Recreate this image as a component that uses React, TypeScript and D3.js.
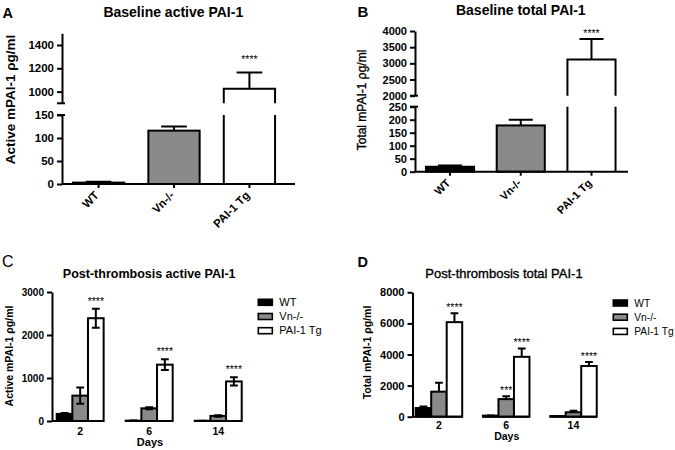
import React, { useEffect, useRef } from "react";
import * as d3 from "d3";

// baseline panels (A, B)
const baseGroups = ["WT", "Vn-/-", "PAI-1 Tg"];
const baseActive = [3, 116, 1025];
const baseActiveErr = [2, 9, 140];
const baseTotal = [19, 178, 3120];
const baseTotalErr = [5, 22, 630];
const baseStars = ["", "", "****"];

// post-thrombosis panels (C, D)
const days = ["2", "6", "14"];
const postActiveWT = [165, 8, 5];
const postActiveWTErr = [20, 3, 2];
const postActiveVn = [590, 295, 118];
const postActiveVnErr = [190, 22, 18];
const postActiveTg = [2390, 1310, 920];
const postActiveTgErr = [220, 125, 95];
const postActiveStars = [["", "", ""], ["", "", ""], ["****", "****", "****"]];

const postTotalWT = [560, 70, 40];
const postTotalWTErr = [90, 10, 8];
const postTotalVn = [1610, 1130, 285];
const postTotalVnErr = [580, 180, 100];
const postTotalTg = [6080, 3850, 3260];
const postTotalTgErr = [580, 540, 250];
const postTotalStars = [["", "", ""], ["", "***", ""], ["****", "****", "****"]];

const fills = ["#000000", "#8a8a8a", "#ffffff"];
const FONT = "'Liberation Sans', Arial, sans-serif";

function styleAxis(g: any, size: number) {
  g.attr("font-family", FONT).attr("font-size", size).attr("font-weight", "bold");
  g.select(".domain").attr("stroke", "#000").attr("stroke-width", 2);
  g.selectAll(".tick line").attr("stroke", "#000").attr("stroke-width", 2);
  g.selectAll(".tick text").attr("fill", "#000");
}

function starText(g: any, x: number, y: number, t: string) {
  g.append("text")
    .attr("x", x).attr("y", y)
    .attr("text-anchor", "middle")
    .attr("fill", "#000")
    .attr("font-family", FONT).attr("font-size", 10.5)
    .text(t);
}

function brokenPanel(svg: any, cfg: any) {
  const g = svg.append("g");
  const x = d3
    .scaleBand()
    .domain(baseGroups)
    .range(cfg.xRange)
    .paddingInner(0.32)
    .paddingOuter(cfg.po);
  const yLo = d3.scaleLinear().domain(cfg.loDomain).range(cfg.loRange);
  const yHi = d3.scaleLinear().domain(cfg.hiDomain).range(cfg.hiRange);
  const loMax = cfg.loDomain[1];
  const hiMin = cfg.hiDomain[0];
  const y = (v: number) => (v <= loMax ? yLo(v) : yHi(v));
  const w = x.bandwidth();

  baseGroups.forEach((k, i) => {
    const v = cfg.values[i];
    const x0 = x(k) as number;
    if (v <= loMax) {
      g.append("rect")
        .attr("x", x0).attr("y", yLo(v))
        .attr("width", w).attr("height", yLo(0) - yLo(v))
        .attr("fill", fills[i]).attr("stroke", "#000").attr("stroke-width", 2);
    } else {
      // bar crosses the axis break: lower stump + upper part
      g.append("rect")
        .attr("x", x0).attr("y", yLo(loMax))
        .attr("width", w).attr("height", yLo(0) - yLo(loMax))
        .attr("fill", fills[i]);
      g.append("path")
        .attr("d", `M${x0},${yLo(0)}V${yLo(loMax)}M${x0 + w},${yLo(loMax)}V${yLo(0)}`)
        .attr("fill", "none").attr("stroke", "#000").attr("stroke-width", 2);
      g.append("rect")
        .attr("x", x0).attr("y", yHi(v))
        .attr("width", w).attr("height", yHi(hiMin) - yHi(v))
        .attr("fill", fills[i]);
      g.append("path")
        .attr("d", `M${x0},${yHi(hiMin)}V${yHi(v)}H${x0 + w}V${yHi(hiMin)}`)
        .attr("fill", "none").attr("stroke", "#000").attr("stroke-width", 2);
    }
    const cx = x0 + w / 2;
    const top = y(v + cfg.errs[i]);
    g.append("path")
      .attr("d", `M${cx},${y(v)}V${top}M${cx - w / 4},${top}H${cx + w / 4}`)
      .attr("fill", "none").attr("stroke", "#000").attr("stroke-width", 2);
    if (cfg.stars[i]) starText(g, cx, top - cfg.starOffset + 6, cfg.stars[i]);
  });

  // y axis, two segments
  const lo = g.append("g").attr("transform", `translate(${cfg.axisX},0)`)
    .call(d3.axisLeft(yLo).tickValues(cfg.loTicks).tickSize(5).tickSizeOuter(0).tickPadding(3).tickFormat(d3.format("d")));
  styleAxis(lo, cfg.tickFont);
  const hi = g.append("g").attr("transform", `translate(${cfg.axisX},0)`)
    .call(d3.axisLeft(yHi).tickValues(cfg.hiTicks).tickSize(5).tickSizeOuter(0).tickPadding(3).tickFormat(d3.format("d")));
  styleAxis(hi, cfg.tickFont);
  // break marks
  [yHi(hiMin), yLo(loMax)].forEach((yy) => {
    g.append("line")
      .attr("x1", cfg.axisX - 5).attr("x2", cfg.axisX + 3)
      .attr("y1", yy).attr("y2", yy)
      .attr("stroke", "#000").attr("stroke-width", 2);
  });

  // x axis
  const y0 = yLo(0);
  g.append("line")
    .attr("x1", cfg.axisX).attr("x2", cfg.axisEnd)
    .attr("y1", y0).attr("y2", y0)
    .attr("stroke", "#000").attr("stroke-width", 2);
  baseGroups.forEach((k) => {
    const cx = (x(k) as number) + w / 2;
    g.append("line")
      .attr("x1", cx).attr("x2", cx).attr("y1", y0).attr("y2", y0 + 4)
      .attr("stroke", "#000").attr("stroke-width", 2);
    g.append("text")
      .attr("transform", `translate(${cx + 1},${y0 + 12}) rotate(-45)`)
      .attr("text-anchor", "end")
      .attr("font-family", FONT).attr("font-size", cfg.tickFont).attr("font-weight", "bold")
      .text(k);
  });
}

function groupedPanel(svg: any, cfg: any) {
  const g = svg.append("g");
  const xg = d3.scaleBand().domain(days).range(cfg.xRange).paddingInner(cfg.pi).paddingOuter(cfg.po);
  const xs = d3.scaleBand().domain(baseGroups).range([0, xg.bandwidth()]);
  const y = d3.scaleLinear().domain(cfg.yDomain).range(cfg.yRange);
  const bw = xs.bandwidth();

  baseGroups.forEach((s, si) => {
    days.forEach((d, di) => {
      const v = cfg.values[si][di];
      const e = cfg.errs[si][di];
      const x0 = (xg(d) as number) + (xs(s) as number);
      const cx = x0 + bw / 2;
      g.append("rect")
        .attr("x", x0).attr("y", y(v))
        .attr("width", bw).attr("height", y(0) - y(v))
        .attr("fill", fills[si]).attr("stroke", "#000").attr("stroke-width", 2);
      const top = y(v + e);
      const bot = cfg.both ? y(Math.max(0, v - e)) : y(v);
      let dd = `M${cx},${bot}V${top}M${cx - bw / 4},${top}H${cx + bw / 4}`;
      if (cfg.both) dd += `M${cx - bw / 4},${bot}H${cx + bw / 4}`;
      g.append("path").attr("d", dd).attr("fill", "none").attr("stroke", "#000").attr("stroke-width", 2);
      const st = cfg.stars[si][di];
      if (st) starText(g, cx, top - cfg.starOffset + 6, st);
    });
  });

  const ya = g.append("g").attr("transform", `translate(${cfg.axisX},0)`)
    .call(d3.axisLeft(y).tickValues(cfg.yTicks).tickSize(5).tickSizeOuter(0).tickPadding(3).tickFormat(d3.format("d")));
  styleAxis(ya, cfg.tickFont);

  // x axis drawn in one segment per group
  const y0 = y(0);
  days.forEach((d, di) => {
    const gx = xg(d) as number;
    g.append("line")
      .attr("x1", di === 0 ? cfg.axisX : gx).attr("x2", gx + xg.bandwidth())
      .attr("y1", y0).attr("y2", y0)
      .attr("stroke", "#000").attr("stroke-width", 2);
    g.append("text")
      .attr("x", gx + xg.bandwidth() / 2).attr("y", y0 + cfg.labelDy)
      .attr("text-anchor", "middle")
      .attr("font-family", FONT).attr("font-size", 10.5).attr("font-weight", "bold")
      .text(d);
  });
  g.append("text")
    .attr("x", cfg.daysPos[0]).attr("y", cfg.daysPos[1])
    .attr("text-anchor", "middle")
    .attr("font-family", FONT).attr("font-size", cfg.daysFont).attr("font-weight", "bold")
    .text("Days");

  // legend
  baseGroups.forEach((s, si) => {
    const ry = cfg.legend[1] + si * 14.2;
    g.append("rect")
      .attr("x", cfg.legend[0]).attr("y", ry).attr("width", 14).attr("height", 6)
      .attr("fill", fills[si]).attr("stroke", "#000").attr("stroke-width", 1.6);
    g.append("text")
      .attr("x", cfg.legend[0] + 21).attr("y", ry + 6.7)
      .attr("font-family", FONT).attr("font-size", cfg.legendFont)
      .text(s);
  });
}

function label(svg: any, t: string, x: number, y: number, size: number, weight: string, opts: any = {}) {
  const el = svg.append("text")
    .attr("x", x).attr("y", y)
    .attr("font-family", FONT).attr("font-size", size).attr("font-weight", weight)
    .attr("text-anchor", opts.anchor || "middle")
    .text(t);
  if (opts.rotate) el.attr("transform", `rotate(-90,${x},${y})`);
  if (opts.thick) el.attr("stroke", "#000").attr("stroke-width", opts.thick);
  return el;
}

const App = () => {
  const ref = useRef<SVGSVGElement>(null);
  useEffect(() => {
    const svg = d3.select(ref.current);
    svg.selectAll("*").remove();
    svg.append("rect").attr("width", 675).attr("height", 450).attr("fill", "#fff");

    // A
    label(svg, "A", 2.5, 18.3, 14.5, "bold", { anchor: "start" });
    label(svg, "Baseline active PAI-1", 173.3, 16.7, 14, "bold");
    label(svg, "Active mPAI-1 \u03c1g/ml", 15, 99.5, 13.5, "bold", { rotate: true });
    brokenPanel(svg, {
      values: baseActive, errs: baseActiveErr, stars: baseStars,
      axisX: 62, axisEnd: 295, xRange: [62, 286], po: 0.145,
      loDomain: [0, 150], loRange: [184, 115],
      hiDomain: [900, 1500], hiRange: [103.3, 33.3],
      loTicks: [0, 50, 100, 150], hiTicks: [1000, 1200, 1400],
      tickFont: 11.5, starOffset: 15,
    });

    // B
    label(svg, "B", 357.5, 17, 15, "bold", { anchor: "start" });
    label(svg, "Baseline total PAI-1", 520.8, 15, 14, "bold");
    label(svg, "Total mPAI-1 \u03c1g/ml", 366, 100, 12, "normal", { rotate: true, thick: 0.35 });
    brokenPanel(svg, {
      values: baseTotal, errs: baseTotalErr, stars: baseStars,
      axisX: 415, axisEnd: 628, xRange: [415, 626.5], po: 0.155,
      loDomain: [0, 250], loRange: [171.7, 106.7],
      hiDomain: [2000, 4000], hiRange: [95.7, 31],
      loTicks: [0, 50, 100, 150, 200, 250], hiTicks: [2000, 2500, 3000, 3500, 4000],
      tickFont: 11, starOffset: 8,
    });

    // C
    label(svg, "C", 2, 266.7, 16, "normal", { anchor: "start" });
    label(svg, "Post-thrombosis active PAI-1", 149.2, 278, 12.5, "bold");
    label(svg, "Active mPAI-1 \u03c1g/ml", 13, 356, 10.5, "bold", { rotate: true });
    groupedPanel(svg, {
      values: [postActiveWT, postActiveVn, postActiveTg],
      errs: [postActiveWTErr, postActiveVnErr, postActiveTgErr],
      stars: postActiveStars, both: true,
      axisX: 52, xRange: [52, 246.4], pi: 0.32, po: 0.068,
      yDomain: [0, 3000], yRange: [421, 292], yTicks: [0, 1000, 2000, 3000],
      tickFont: 10, starOffset: 10, labelDy: 13.5, daysPos: [150, 445.5], daysFont: 11,
      legend: [258.3, 299.3], legendFont: 11,
    });

    // D
    label(svg, "D", 357.5, 266.7, 14.5, "bold", { anchor: "start" });
    label(svg, "Post-thrombosis total PAI-1", 504, 278, 13, "normal", { thick: 0.35 });
    label(svg, "Total mPAI-1 \u03c1g/ml", 371, 352.5, 10.5, "bold", { rotate: true });
    groupedPanel(svg, {
      values: [postTotalWT, postTotalVn, postTotalTg],
      errs: [postTotalWTErr, postTotalVnErr, postTotalTgErr],
      stars: postTotalStars, both: false,
      axisX: 412.5, xRange: [412.5, 599.9], pi: 0.308, po: 0.047,
      yDomain: [0, 8000], yRange: [416.7, 292.3], yTicks: [0, 2000, 4000, 6000, 8000],
      tickFont: 11, starOffset: 8, labelDy: 12, daysPos: [506.7, 439.5], daysFont: 10.5,
      legend: [613.3, 300], legendFont: 10.2,
    });
  }, []);

  return (
    <svg
      ref={ref}
      width={675}
      height={450}
      style={{ position: "absolute", left: 0, top: 0 }}
    ></svg>
  );
};

export default App;
